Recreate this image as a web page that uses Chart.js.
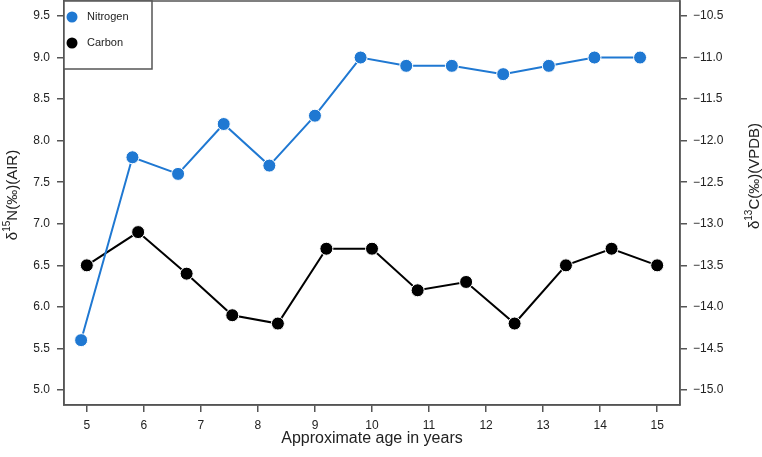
<!DOCTYPE html>
<html>
<head>
<meta charset="utf-8">
<script src="https://cdn.jsdelivr.net/npm/chart.js@4.4.1/dist/chart.umd.min.js"></script>
<style>
  html, body { margin: 0; padding: 0; background: #fff; }
  #wrap { width: 762px; height: 457px; }
</style>
</head>
<body>
<div id="wrap"><canvas id="chart" width="762" height="457"></canvas></div>
<script>
// values
const nitrogenAge = [4.9, 5.8, 6.6, 7.4, 8.2, 9.0, 9.8, 10.6, 11.4, 12.3, 13.1, 13.9, 14.7];
const nitrogenD15N = [5.6, 7.8, 7.6, 8.2, 7.7, 8.3, 9.0, 8.9, 8.9, 8.8, 8.9, 9.0, 9.0];
const carbonAge = [5.0, 5.9, 6.75, 7.55, 8.35, 9.2, 10.0, 10.8, 11.65, 12.5, 13.4, 14.2, 15.0];
const carbonD13C = [-13.5, -13.1, -13.6, -14.1, -14.2, -13.3, -13.3, -13.8, -13.7, -14.2, -13.5, -13.3, -13.5];

const xTicks = [5, 6, 7, 8, 9, 10, 11, 12, 13, 14, 15];
const nTicks = [5.0, 5.5, 6.0, 6.5, 7.0, 7.5, 8.0, 8.5, 9.0, 9.5];
const cTicks = [-15.0, -14.5, -14.0, -13.5, -13.0, -12.5, -12.0, -11.5, -11.0, -10.5];

const seriesNames = ['Nitrogen', 'Carbon'];
const seriesColors = ['#1f78d2', '#000000'];

const FONT = "'Liberation Sans', Arial, sans-serif";
const AXIS = '#555';
Chart.defaults.font.family = FONT;

const toPoints = (xs, ys) => xs.map((x, i) => ({ x: x, y: ys[i] }));
const fixTicks = vals => scale => { scale.ticks = vals.map(v => ({ value: v })); };
const noPad = s => { s.paddingTop = 0; s.paddingBottom = 0; s.paddingLeft = 0; s.paddingRight = 0; };

// legend box + frame + rich axis titles
const decor = {
  id: 'decor',
  afterDraw(chart) {
    const { ctx, chartArea: a } = chart;
    ctx.save();
    ctx.strokeStyle = AXIS;
    ctx.lineWidth = 1.5;
    ctx.strokeRect(a.left, a.top, a.right - a.left, a.bottom - a.top);

    // legend
    ctx.fillStyle = '#fff';
    ctx.fillRect(a.left, a.top, 88, 68);
    ctx.strokeRect(a.left, a.top, 88, 68);
    chart.data.datasets.forEach((ds, i) => {
      const y = a.top + 16 + i * 26;
      ctx.beginPath();
      ctx.arc(a.left + 8, y, 5.5, 0, Math.PI * 2);
      ctx.fillStyle = ds.backgroundColor;
      ctx.fill();
      ctx.fillStyle = '#222';
      ctx.font = '11px ' + FONT;
      ctx.textBaseline = 'middle';
      ctx.textAlign = 'left';
      ctx.fillText(ds.label, a.left + 23, y);
    });

    ctx.fillStyle = '#222';
    ctx.font = '16px ' + FONT;
    ctx.textAlign = 'center';
    ctx.textBaseline = 'alphabetic';
    ctx.fillText('Approximate age in years', (a.left + a.right) / 2, 443);

    rich(ctx, [['δ', 15, 0], ['15', 10, -6], ['N(‰)(AIR)', 15, 0]], 13, 195);
    rich(ctx, [['δ', 15, 0], ['13', 10, -6], ['C(‰)(VPDB)', 15, 0]], 755, 176);
    ctx.restore();
  }
};

function rich(ctx, parts, cx, cy) {
  let w = 0;
  parts.forEach(p => { ctx.font = p[1] + 'px ' + FONT; w += ctx.measureText(p[0]).width; });
  ctx.save();
  ctx.translate(cx, cy);
  ctx.rotate(-Math.PI / 2);
  ctx.textAlign = 'left';
  ctx.textBaseline = 'middle';
  ctx.fillStyle = '#222';
  let x = -w / 2;
  parts.forEach(p => {
    ctx.font = p[1] + 'px ' + FONT;
    ctx.fillText(p[0], x, p[2]);
    x += ctx.measureText(p[0]).width;
  });
  ctx.restore();
}

const axisCommon = {
  grid: { drawOnChartArea: false, drawTicks: true, tickLength: 7, color: AXIS, lineWidth: 1.5 },
  border: { display: true, color: AXIS, width: 1.5 },
};

new Chart(document.getElementById('chart'), {
  type: 'line',
  data: {
    datasets: [
      {
        label: seriesNames[0],
        data: toPoints(nitrogenAge, nitrogenD15N),
        yAxisID: 'y',
        borderColor: seriesColors[0],
        backgroundColor: seriesColors[0],
        borderWidth: 2,
        pointRadius: 6.5,
        pointBorderColor: '#fff',
        pointBorderWidth: 1,
        tension: 0
      },
      {
        label: seriesNames[1],
        data: toPoints(carbonAge, carbonD13C),
        yAxisID: 'y2',
        borderColor: seriesColors[1],
        backgroundColor: seriesColors[1],
        borderWidth: 2,
        pointRadius: 6.5,
        pointBorderColor: '#fff',
        pointBorderWidth: 1,
        tension: 0
      }
    ]
  },
  options: {
    responsive: false,
    animation: false,
    layout: { padding: { top: 1 }, autoPadding: false },
    plugins: { legend: { display: false }, tooltip: { enabled: false } },
    scales: {
      x: {
        ...axisCommon,
        type: 'linear',
        min: 4.6, max: 15.4,
        afterBuildTicks: fixTicks(xTicks),
        afterFit: s => { s.height = 52; noPad(s); },
        ticks: { color: '#222', font: { size: 12 }, padding: 6, maxRotation: 0, callback: v => String(v) }
      },
      y: {
        ...axisCommon,
        position: 'left',
        min: 4.82, max: 9.68,
        afterBuildTicks: fixTicks(nTicks),
        afterFit: s => { s.width = 64; noPad(s); },
        ticks: { color: '#222', font: { size: 12 }, padding: 7, callback: v => v.toFixed(1) }
      },
      y2: {
        ...axisCommon,
        position: 'right',
        min: -15.18, max: -10.32,
        afterBuildTicks: fixTicks(cTicks),
        afterFit: s => { s.width = 82; noPad(s); },
        ticks: { color: '#222', font: { size: 12 }, padding: 6, callback: v => v.toFixed(1).replace('-', '\u2212') }
      }
    }
  },
  plugins: [decor]
});
</script>
</body>
</html>
